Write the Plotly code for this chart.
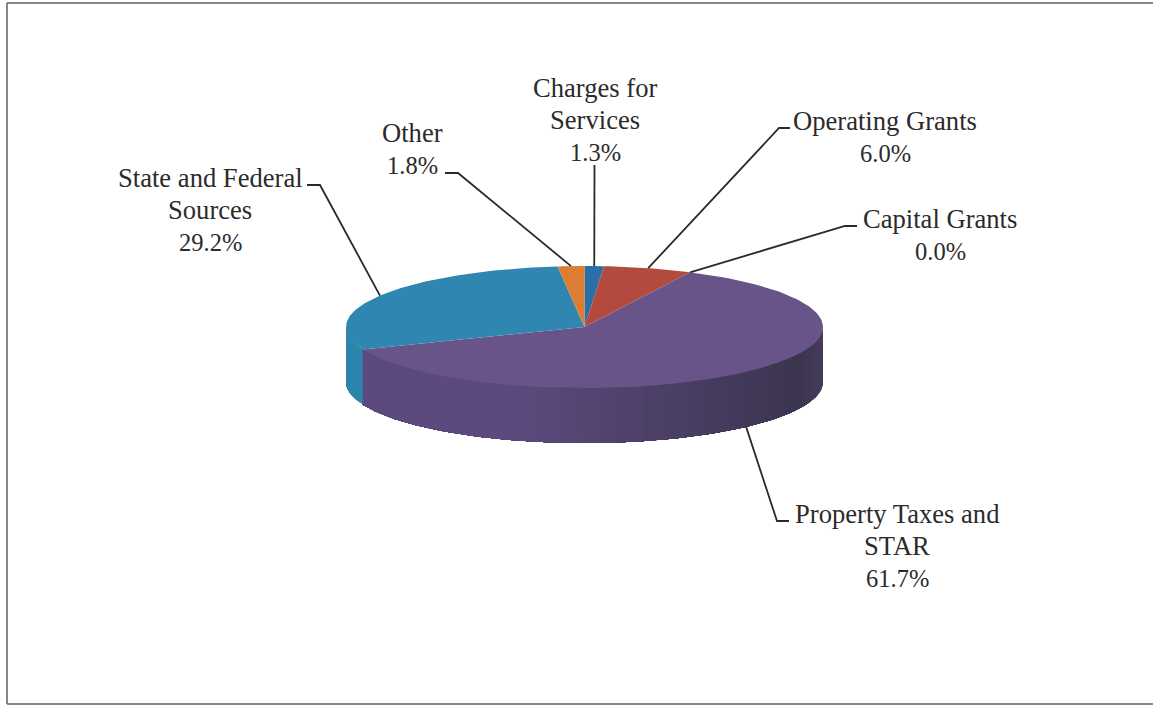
import math
import plotly.graph_objects as go

# Revenue shares, in the clockwise order of the slices, starting at twelve o'clock
categories = ["Charges for Services", "Operating Grants", "Capital Grants",
              "Property Taxes and STAR", "State and Federal Sources", "Other"]
shares = [1.3, 6.0, 0.0, 61.7, 29.2, 1.8]
top_colors = ["#2a6fa8", "#b34a3e", "#8a9a4a", "#69548a", "#2f86b0", "#dd7d34"]
side_colors = ["#245f90", "#8f3a30", "#6f7c3a", "#5c4a7e", "#2c85ad", "#b86a2c"]

# Label lines, one list per category, with the percentage appended when drawn
label_lines = [["Charges for", "Services"], ["Operating Grants"], ["Capital Grants"],
               ["Property Taxes and", "STAR"], ["State and Federal", "Sources"], ["Other"]]
label_x = [595, 885, 940, 897, 210, 412]
label_y = [88, 121, 219, 514, 178, 133]
line_pitch = 32
# Each leader: where it leaves the label, then the elbow; the far end sits on the slice
leader_start = [(594.5, 165), (790, 128), (857, 226), (789, 521), (307, 185), (445, 173)]
leader_elbow = [(594.5, 166), (779, 128), (845, 226), (777, 521), (320, 185), (458, 173)]

# Projected pie geometry, in page pixels
CX, CY, RX, RY, DEPTH = 584.5, 327, 238.5, 61, 55
FONT = "Liberation Serif"
NAME_SIZE = 26.6
PERCENT_SIZE = 24.5
TEXT_COLOR = "#2b2b2b"
LINE_COLOR = "#2a2a2a"


def rim(pct, drop=0):
    """Point on the ellipse at a cumulative percentage, clockwise from the top."""
    t = 2 * math.pi * pct / 100
    return CX + RX * math.sin(t), CY - RY * math.cos(t) + drop


def arc(p0, p1, drop=0):
    n = max(2, int(abs(p1 - p0) * 3))
    pts = [rim(p0 + (p1 - p0) * i / n, drop) for i in range(n + 1)]
    return [p[0] for p in pts], [p[1] for p in pts]


def mix(c0, c1, f):
    a = [int(c0[i:i + 2], 16) for i in (1, 3, 5)]
    b = [int(c1[i:i + 2], 16) for i in (1, 3, 5)]
    return "#" + "".join(f"{round(u + (v - u) * f):02x}" for u, v in zip(a, b))


def side_shade(base, x):
    """Wall shading: lit on the left, falling off towards the right."""
    f = min(1, max(0, (x - (CX - RX)) / (2 * RX)))
    if f < 0.35:
        return base
    if f < 0.95:
        return mix(base, "#3c3550", (f - 0.35) / 0.6)
    return mix("#3c3550", "#453d5a", (f - 0.95) / 0.05)


fig = go.Figure()


def polygon(xs, ys, color):
    fig.add_trace(go.Scatter(x=xs, y=ys, mode="lines", fill="toself", fillcolor=color,
                             line=dict(width=0), hoverinfo="skip", showlegend=False))


# Cumulative start and end of every slice
edges = [0]
for s in shares:
    edges.append(edges[-1] + s)

# Outer wall: only the part of each slice facing the viewer (25% to 75% around).
# Each strip runs on to the far end of the slice and the next one paints over it,
# so neighbouring strips leave no seam.
for i, s in enumerate(shares):
    lo, hi = max(edges[i], 25), min(edges[i + 1], 75)
    if s == 0 or hi <= lo:
        continue
    strips = max(1, int((hi - lo) * 2))
    for k in range(strips):
        p0 = lo + (hi - lo) * k / strips
        p1 = lo + (hi - lo) * (k + 1) / strips
        tx, ty = arc(p0, hi)
        bx, by = arc(hi, p0, DEPTH)
        xm = rim((p0 + p1) / 2)[0]
        polygon(tx + bx + tx[:1], ty + by + ty[:1], side_shade(side_colors[i], xm))

# Top face
for i, s in enumerate(shares):
    if s == 0:
        continue
    ax, ay = arc(edges[i], edges[i + 1])
    polygon([CX] + ax + [CX], [CY] + ay + [CY], top_colors[i])

# Leader lines and labels
annotations = []
for i, s in enumerate(shares):
    mid = (edges[i] + edges[i + 1]) / 2
    drop = DEPTH if 25 < mid < 75 else 0
    end = rim(mid, drop)
    fig.add_trace(go.Scatter(
        x=[leader_start[i][0], leader_elbow[i][0], end[0]],
        y=[leader_start[i][1], leader_elbow[i][1], end[1]],
        mode="lines", line=dict(color=LINE_COLOR, width=1.8),
        hoverinfo="skip", showlegend=False))
    lines = label_lines[i] + [f"{s:.1f}%"]
    for j, text in enumerate(lines):
        size = PERCENT_SIZE if j == len(lines) - 1 else NAME_SIZE
        annotations.append(dict(x=label_x[i], y=label_y[i] + j * line_pitch, text=text,
                                showarrow=False, xanchor="center", yanchor="middle",
                                font=dict(family=FONT, size=size, color=TEXT_COLOR)))

# Frame round the chart area
frame = dict(type="line", line=dict(color="#5f5f5f", width=1.5), layer="above")
shapes = [
    dict(frame, x0=7, x1=1153, y0=3, y1=3),
    dict(frame, x0=7, x1=7, y0=3, y1=704),
    dict(frame, x0=7, x1=1153, y0=704, y1=704),
]

fig.update_layout(
    width=1153, height=705, margin=dict(l=0, r=0, t=0, b=0),
    paper_bgcolor="white", plot_bgcolor="white", showlegend=False,
    xaxis=dict(range=[0, 1153], visible=False, fixedrange=True),
    yaxis=dict(range=[705, 0], visible=False, fixedrange=True),
    annotations=annotations, shapes=shapes,
)
fig.write_html("out.html", config=dict(displayModeBar=False))
